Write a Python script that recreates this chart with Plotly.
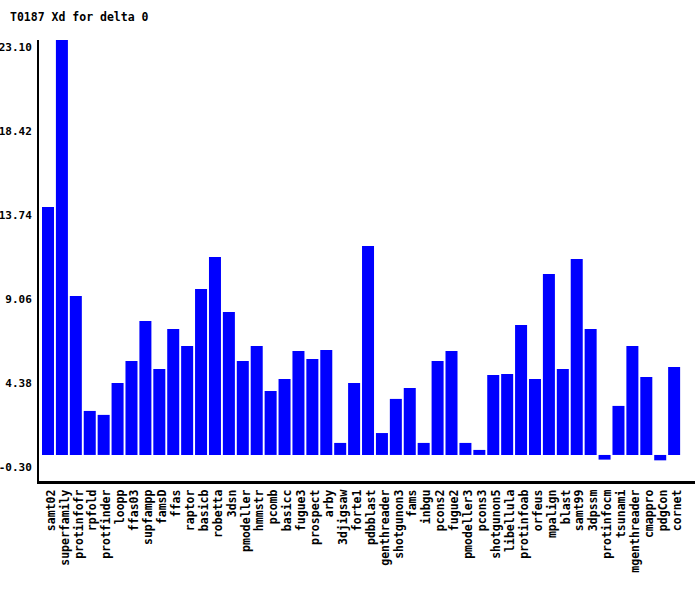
import plotly.graph_objects as go

categories = ["samt02", "superfamily", "protinfofr", "rpfold", "protfinder", "loopp", "ffas03",
              "supfampp", "famsD", "ffas", "raptor", "basicb", "robetta", "3dsn", "pmodeller",
              "hmmstr", "pcomb", "basicc", "fugue3", "prospect", "arby", "3djigsaw", "forte1",
              "pdbblast", "genthreader", "shotgunon3", "fams", "inbgu", "pcons2", "fugue2",
              "pmodeller3", "pcons3", "shotgunon5", "libellula", "protinfoab", "orfeus",
              "mpalign", "blast", "samt99", "3dpssm", "protinfocm", "tsunami", "mgenthreader",
              "cmappro", "pdgCon", "cornet"]
values = [13.80, 23.10, 8.85, 2.45, 2.23, 4.01, 5.23,
          7.46, 4.79, 7.01, 6.07, 9.24, 11.02, 7.96, 5.23,
          6.07, 3.56, 4.23, 5.79, 5.34, 5.84, 0.67, 4.01,
          11.63, 1.22, 3.12, 3.73, 0.67, 5.23, 5.79,
          0.67, 0.28, 4.45, 4.51, 7.23, 4.23,
          10.07, 4.79, 10.91, 7.01, -0.26, 2.73, 6.07,
          4.34, -0.30, 4.90]
y_ticks = [23.10, 18.42, 13.74, 9.06, 4.38, -0.30]
y_tick_labels = ["23.10", "18.42", "13.74", "9.06", "4.38", "-0.30"]
title_text = "T0187 Xd for delta 0"

FONT = "DejaVu Sans Mono"

fig = go.Figure(go.Bar(x=list(range(len(categories))), y=values,
                       marker=dict(color="#0000ff", line=dict(width=0))))

fig.update_layout(
    width=700, height=590,
    margin=dict(l=39, r=5, t=40, b=109),
    plot_bgcolor="white", paper_bgcolor="white",
    bargap=0.137,
    showlegend=False,
    font=dict(family=FONT, size=11, color="black", weight="bold"),
    title=dict(text=title_text, x=10/700, xanchor="left", xref="container",
               y=1 - 17/590, yanchor="middle", yref="container",
               font=dict(family=FONT, size=11.5, color="black", weight="bold")),
    xaxis=dict(range=[-0.647, 46.5], tickmode="array", automargin=False,
               tickvals=list(range(len(categories))), ticktext=categories,
               tickangle=-90, showgrid=False, zeroline=False, ticks="",
               showline=True, linecolor="black", linewidth=3,
               ticklabelstandoff=1, ticklabelshift=3,
               tickfont=dict(family=FONT, size=11.5, color="black", weight="bold")),
    yaxis=dict(range=[-1.45, 23.10], tickmode="array", tickvals=y_ticks, automargin=False,
               ticktext=y_tick_labels, showgrid=False, zeroline=False, ticks="",
               showline=True, linecolor="black", linewidth=2,
               ticklabelshift=7, ticklabelstandoff=3,
               tickfont=dict(family=FONT, size=11, color="black", weight="bold")),
)

fig.write_html("out.html", config={"displayModeBar": False},
               post_script="document.body.style.margin='0';")
